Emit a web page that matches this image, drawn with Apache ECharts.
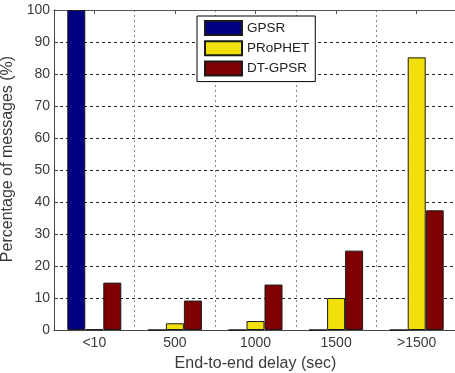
<!DOCTYPE html>
<html>
<head>
<meta charset="utf-8">
<script src="https://cdn.jsdelivr.net/npm/echarts@6/dist/echarts.min.js"></script>
<style>
  html, body { margin: 0; padding: 0; background: #fff; }
  #chart { width: 455px; height: 373px; }
</style>
</head>
<body>
<div id="chart"></div>
<script>
// Delay bins and share of messages delivered within each bin (%)
const categories = ['<10', '500', '1000', '1500', '>1500'];
const gpsr = [100, 0, 0, 0, 0];
const prophet = [0.3, 2.1, 2.8, 10, 85.2];
const dtGpsr = [14.8, 9.2, 14.2, 24.8, 37.4];
const yTicks = { min: 0, max: 100, interval: 10 };

const font = 'Liberation Sans, Arial, sans-serif';
const textColor = '#3a3a3a';

const barStyle = (color) => ({ color: color, borderColor: '#1a1a1a', borderWidth: 1 });

const chart = echarts.init(document.getElementById('chart'), null, { renderer: 'canvas' });
chart.setOption({
  animation: false,
  backgroundColor: '#fff',
  textStyle: { fontFamily: font },
  grid: { left: 54, top: 10, width: 403, height: 320, containLabel: false, outerBoundsMode: 'none' },
  legend: {
    orient: 'vertical',
    left: 197,
    top: 16,
    padding: [4, 6, 5, 7],
    itemWidth: 37,
    itemHeight: 14,
    itemGap: 4.3,
    backgroundColor: '#fff',
    borderColor: '#000',
    borderWidth: 1,
    borderRadius: 0,
    icon: 'rect',
    textStyle: { fontFamily: font, fontSize: 13.5, color: '#222' },
    data: ['GPSR', 'PRoPHET', 'DT-GPSR']
  },
  xAxis: [
    {
      type: 'category',
      data: categories,
      position: 'bottom',
      boundaryGap: true,
      name: 'End-to-end delay (sec)',
      nameLocation: 'middle',
      nameGap: 26,
      nameTextStyle: { fontFamily: font, fontSize: 16, color: textColor },
      axisLine: { lineStyle: { color: '#444', width: 1 } },
      axisTick: { show: false },
      axisLabel: { fontFamily: font, fontSize: 14, color: textColor, margin: 6 },
      splitLine: { show: true, lineStyle: { color: '#888', type: [2, 3], width: 1 } }
    },
    {
      type: 'category',
      data: categories,
      position: 'top',
      boundaryGap: true,
      axisLine: { show: true, lineStyle: { color: '#555', width: 1 } },
      axisTick: { show: true, inside: true, alignWithLabel: true, length: 4, lineStyle: { color: '#555' } },
      axisLabel: { show: false },
      splitLine: { show: false }
    }
  ],
  yAxis: {
    type: 'value',
    min: yTicks.min,
    max: yTicks.max,
    interval: yTicks.interval,
    name: 'Percentage of messages (%)',
    nameLocation: 'middle',
    nameGap: 32,
    nameTextStyle: { fontFamily: font, fontSize: 16, color: textColor, padding: [0, 0, 0, 22] },
    axisLine: { show: true, lineStyle: { color: '#444', width: 1 } },
    axisTick: { show: true, inside: true, length: 4, lineStyle: { color: '#444' } },
    axisLabel: { fontFamily: font, fontSize: 14, color: textColor, margin: 4 },
    splitLine: { show: true, lineStyle: { color: '#222', type: [3, 3], width: 1 } }
  },
  series: [
    { name: 'GPSR', type: 'bar', data: gpsr, barWidth: 18, barGap: '0%', itemStyle: barStyle('#000080') },
    { name: 'PRoPHET', type: 'bar', data: prophet, barWidth: 18, barGap: '0%', itemStyle: barStyle('#f2e00a') },
    { name: 'DT-GPSR', type: 'bar', data: dtGpsr, barWidth: 18, barGap: '0%', itemStyle: barStyle('#7e0000') }
  ]
});
</script>
</body>
</html>
